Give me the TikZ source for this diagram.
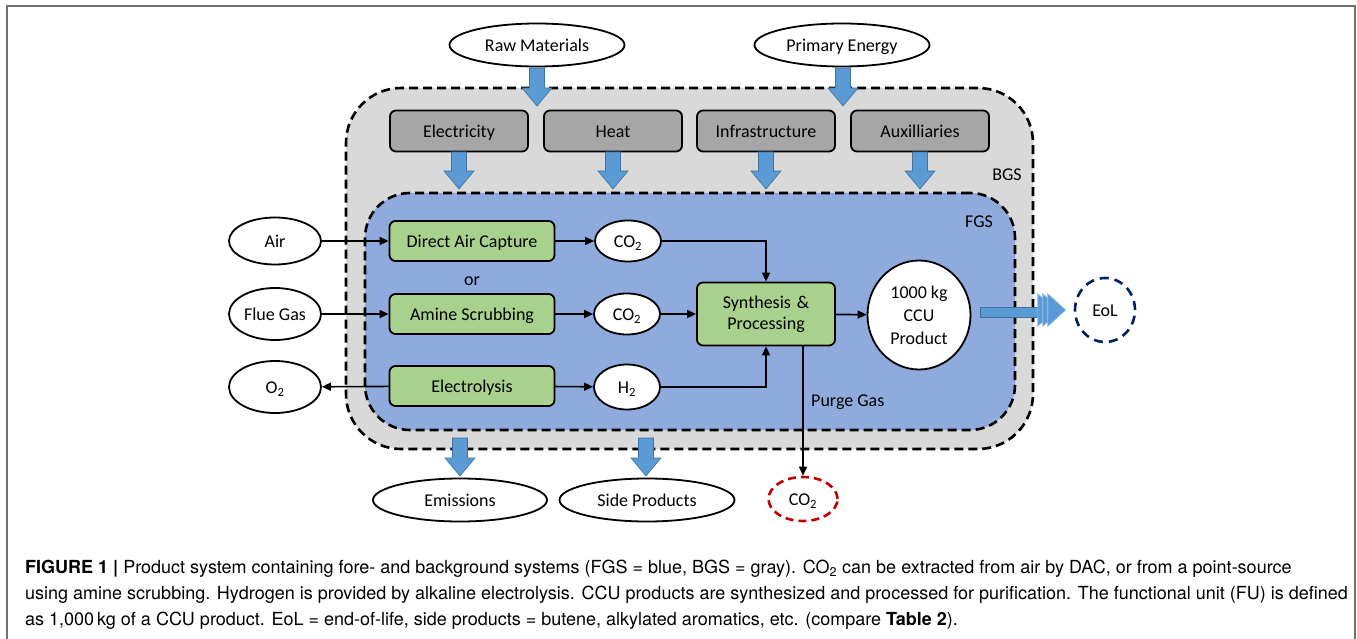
\documentclass[tikz,border=0pt]{standalone}
\usepackage{fontspec}
\setmainfont{Carlito}
\newfontfamily\capfont{TeX Gyre Heros}
\usetikzlibrary{arrows.meta,shapes.geometric,calc}
\definecolor{cBGS}{HTML}{D9D9D9}
\definecolor{cFGS}{HTML}{8FAADC}
\definecolor{cGray}{HTML}{A6A6A6}
\definecolor{cGreen}{HTML}{A9D18E}
\definecolor{cArrow}{HTML}{5B9BD5}
\definecolor{cArrowEdge}{HTML}{41719C}
\definecolor{cEoL}{HTML}{002060}
\definecolor{cRed}{HTML}{C00000}
\definecolor{cFrame}{HTML}{707070}
\newcommand\blockdown[3]{%
  \filldraw[barrow] (#1-7.5,#2) -- (#1+7.5,#2) -- (#1+7.5,#3-18) -- (#1+15,#3-18)
    -- (#1,#3) -- (#1-15,#3-18) -- (#1-7.5,#3-18) -- cycle;}
\begin{document}
\begin{tikzpicture}[x=1pt,y=-1pt,
  font=\fontsize{18}{22}\selectfont,
  tl/.style={text height=16.5pt, text depth=3.5pt},
  ell/.style={ellipse, draw, line width=1.8pt, fill=white, inner sep=0pt},
  graybx/.style={rectangle, rounded corners=6pt, draw, line width=1.8pt, fill=cGray,
    minimum width=138pt, minimum height=41pt, inner sep=0pt, tl},
  greenbx/.style={rectangle, rounded corners=6pt, draw, line width=1.8pt, fill=cGreen,
    minimum width=165pt, minimum height=40pt, inner sep=0pt, align=center},
  sysbx/.style={draw, line width=2.6pt, dash pattern=on 9pt off 5pt, inner sep=0pt},
  conn/.style={line width=1.6pt, -{Triangle[length=9pt,width=8pt]}},
  barrow/.style={fill=cArrow, draw=cArrowEdge, line width=0.6pt},
  lbl/.style={inner sep=0pt, tl}]
\useasboundingbox (0,0) rectangle (1357,639);
% frame
\draw[cFrame, line width=1.5pt] (7,640) -- (7,6) -- (1355,6) -- (1355,640);
% system boundaries
\node[sysbx, fill=cBGS, rounded corners=55pt, minimum width=687pt, minimum height=361pt] (bgs) at (689.5,268.5) {};
\node[sysbx, fill=cFGS, rounded corners=45pt, minimum width=650pt, minimum height=237pt] (fgs) at (690,311.5) {};
\node[lbl] (bgsl) at (1007,174) {BGS};
\node[lbl] (fgsl) at (979,221) {FGS};
% top inputs
\node[ell, tl, minimum width=175pt, minimum height=43pt] (rm) at (537,45) {Raw Materials};
\node[ell, tl, minimum width=175pt, minimum height=43pt] (pe) at (842,45) {Primary Energy};
\blockdown{537}{68}{106}
\blockdown{843}{68}{106}
% background processes
\node[graybx] (elec) at (459,131) {Electricity};
\node[graybx] (heat) at (613,131) {Heat};
\node[graybx] (infra) at (766,131) {Infrastructure};
\node[graybx] (aux) at (920,131) {Auxilliaries};
\blockdown{459}{152}{189}
\blockdown{613}{152}{189}
\blockdown{766}{152}{189}
\blockdown{920}{152}{189}
% bottom outputs
\blockdown{460}{438}{476}
\blockdown{646}{438}{476}
\node[ell, tl, minimum width=174pt, minimum height=43pt] (emis) at (460,500) {Emissions};
\node[ell, tl, minimum width=175pt, minimum height=43pt] (side) at (647,500) {Side Products};
% left inputs
\node[ell, tl, minimum width=92pt, minimum height=47pt] (air) at (275,241) {Air};
\node[ell, tl, minimum width=92pt, minimum height=52pt] (flue) at (275,314) {Flue Gas};
\node[ell, tl, minimum width=92pt, minimum height=52pt] (o2) at (275,387) {O\textsubscript{2}};
% foreground processes
\node[greenbx, tl] (dac) at (472,241) {Direct Air Capture};
\node[lbl] (or) at (472,279) {or};
\node[greenbx, tl] (amine) at (472,314) {Amine Scrubbing};
\node[greenbx, tl] (electro) at (472,386) {Electrolysis};
\node[ell, tl, minimum width=66pt, minimum height=41pt] (co2a) at (628,241) {CO\textsubscript{2}};
\node[ell, tl, minimum width=66pt, minimum height=41pt] (co2b) at (627,314) {CO\textsubscript{2}};
\node[ell, tl, minimum width=66pt, minimum height=45pt] (h2) at (627,387) {H\textsubscript{2}};
\node[greenbx, minimum width=138pt, minimum height=63pt, text width=130pt] (synth) at (766,314) {Synthesis \&\\[-1pt]Processing};
\node[ell, minimum width=103pt, minimum height=109pt, align=center] (prod) at (919,315) {1000 kg\\[1pt]CCU\\[1pt]Product};
% outputs
\node[ell, tl, draw=cRed, line width=2.6pt, dash pattern=on 8pt off 5pt, minimum width=69pt, minimum height=44pt] (co2out) at (803,499) {CO\textsubscript{2}};
\node[ell, tl, draw=cEoL, line width=2.6pt, dash pattern=on 9pt off 6pt, minimum width=60pt, minimum height=64pt] (eol) at (1105,310) {EoL};
% connectors
\draw[conn] (air) -- (dac);
\draw[conn] (flue) -- (amine);
\draw[conn] (electro) -- (o2);
\draw[conn] (dac) -- (co2a);
\draw[conn] (amine) -- (co2b);
\draw[conn] (electro) -- (h2);
\draw[conn] (co2a.east) -| (synth.north);
\draw[conn] (co2b) -- (synth);
\draw[conn] (h2.east) -| (synth.south);
\draw[conn] (synth) -- (prod);
\draw[conn] (synth.south -| co2out.north) -- (co2out.north);
\node[lbl, anchor=west] (purge) at (811,400) {Purge Gas};
% product to EoL arrow
\coordinate (ps) at ($(prod.east)+(9,0)$);
\coordinate (pt) at ($(eol.west)+(-8,0)$);
\filldraw[barrow] ($(ps)+(0,-7.5)$) rectangle ($(pt)+(-28,7.5)$);
\foreach \k in {0,5,10}{
  \filldraw[barrow, draw=cArrow!60!white] ($(pt)+(-28+\k,-16.5)$) -- ($(pt)+(-10+\k,0)$) -- ($(pt)+(-28+\k,16.5)$) -- cycle;}
% caption
\begin{scope}[every node/.style={anchor=west, inner sep=0pt, font=\capfont\fontsize{18}{20}\selectfont}]
\node (cap1) at (25,569) {\textbf{FIGURE 1 |} Product system containing fore- and background systems (FGS = blue, BGS = gray). CO\textsubscript{2} can be extracted from air by DAC, or from a point-source};
\node (cap2) at (25,595) {using amine scrubbing. Hydrogen is provided by alkaline electrolysis. CCU products are synthesized and processed for purification. The functional unit (FU) is defined};
\node (cap3) at (25,621) {as 1,000\,kg of a CCU product. EoL = end-of-life, side products = butene, alkylated aromatics, etc. (compare \textbf{Table 2}).};
\end{scope}
\end{tikzpicture}
\end{document}
